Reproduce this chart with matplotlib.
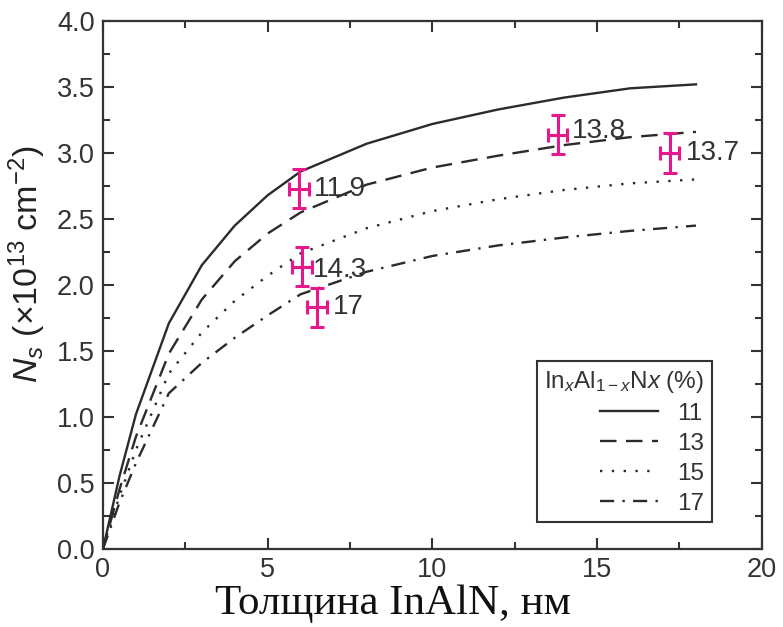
import matplotlib
matplotlib.use("Agg")
import matplotlib.pyplot as plt

plt.rcParams['font.family'] = ['Liberation Sans', 'DejaVu Sans']
plt.rcParams['mathtext.fontset'] = 'custom'
plt.rcParams['mathtext.rm'] = 'Liberation Sans'
plt.rcParams['mathtext.it'] = 'Liberation Sans:italic'
plt.rcParams['mathtext.sf'] = 'Liberation Sans'

# Data
thickness = [0, 0.5, 1, 2, 3, 4, 5, 6, 8, 10, 12, 14, 16, 18]
ns_11 = [0, 0.55, 1.02, 1.71, 2.15, 2.45, 2.68, 2.86, 3.07, 3.22, 3.33, 3.42, 3.49, 3.52]
ns_13 = [0, 0.45, 0.85, 1.48, 1.89, 2.18, 2.39, 2.55, 2.76, 2.89, 2.98, 3.06, 3.12, 3.16]
ns_15 = [0, 0.40, 0.75, 1.33, 1.64, 1.88, 2.07, 2.24, 2.43, 2.56, 2.65, 2.72, 2.77, 2.80]
ns_17 = [0, 0.35, 0.65, 1.18, 1.41, 1.60, 1.77, 1.93, 2.10, 2.22, 2.30, 2.36, 2.41, 2.45]
series_labels = ['11', '13', '15', '17']

exp_x = [5.94, 6.03, 6.5, 13.8, 17.2]
exp_y = [2.73, 2.14, 1.83, 3.14, 3.00]
exp_xerr = [0.3, 0.3, 0.3, 0.3, 0.3]
exp_yerr = [0.15, 0.15, 0.15, 0.15, 0.15]
exp_labels = ['11.9', '14.3', '17', '13.8', '13.7']

fig = plt.figure(figsize=(7.83, 6.27), dpi=100)
ax = fig.add_axes([0.1315, 0.1244, 0.8415, 0.8421])

lc = '#2b2b2b'
ax.plot(thickness, ns_11, color=lc, lw=1.7, ls='-', label=series_labels[0])
ax.plot(thickness, ns_13, color=lc, lw=1.7, ls=(0, (7, 4)), label=series_labels[1])
ax.plot(thickness, ns_15, color=lc, lw=1.7, ls=(0, (1, 4)), label=series_labels[2])
ax.plot(thickness, ns_17, color=lc, lw=1.7, ls=(0, (6, 3.5, 1, 3.5)), label=series_labels[3])

mag = '#e8188c'
ax.errorbar(exp_x, exp_y, xerr=exp_xerr, yerr=exp_yerr, fmt='none',
            ecolor=mag, elinewidth=2.2, capsize=5, capthick=2.2, zorder=5)

offsets = [(0.45, 0.0), (0.33, -0.03), (0.47, 0.0), (0.42, 0.03), (0.48, 0.0)]
for x, y, t, (dx, dy) in zip(exp_x, exp_y, exp_labels, offsets):
    ax.text(x + dx, y + dy, t, fontsize=20, color='#333333', ha='left', va='center')

ax.set_xlim(0, 20)
ax.set_ylim(0, 4.0)
ax.set_xticks([0, 5, 10, 15, 20])
ax.set_yticks([0, 0.5, 1.0, 1.5, 2.0, 2.5, 3.0, 3.5, 4.0])
ax.set_yticklabels(['0.0', '0.5', '1.0', '1.5', '2.0', '2.5', '3.0', '3.5', '4.0'])
ax.set_xticks([2.5, 7.5, 12.5, 17.5], minor=True)
ax.set_yticks([0.25, 0.75, 1.25, 1.75, 2.25, 2.75, 3.25, 3.75], minor=True)
ax.tick_params(which='both', direction='in', top=True, right=True, colors='#333333',
               labelsize=19.5, labelcolor='#333333')
ax.tick_params(which='major', length=8, width=1.5, pad=6)
ax.tick_params(which='minor', length=5, width=1.5)
for s in ax.spines.values():
    s.set_linewidth(1.6)
    s.set_color('#333333')

ax.set_xlabel('Толщина InAlN, нм', fontsize=31, family=['Liberation Serif', 'DejaVu Serif'],
              color='#111111')
ax.xaxis.set_label_coords(0.44, -0.068)
ax.set_ylabel(r'$N_s$ (×10$^{13}$ cm$^{−2}$)', fontsize=24.5, color='#222222')
ax.yaxis.set_label_coords(-0.083, 0.54)

leg = ax.legend(loc='lower right', bbox_to_anchor=(0.924, 0.051), borderaxespad=0,
                fontsize=17.5,
                title=r'In$_x$Al$_{1−x}$N$x$ (%)', title_fontsize=17.5,
                handlelength=2.4, handletextpad=0.8, fancybox=False, framealpha=1,
                edgecolor='#333333', borderpad=0.3, labelspacing=0.33,
                alignment='right')
leg.get_frame().set_linewidth(1.5)
for t in leg.get_texts():
    t.set_color('#333333')
leg.get_title().set_color('#333333')

fig.savefig('out.png', dpi=100)
